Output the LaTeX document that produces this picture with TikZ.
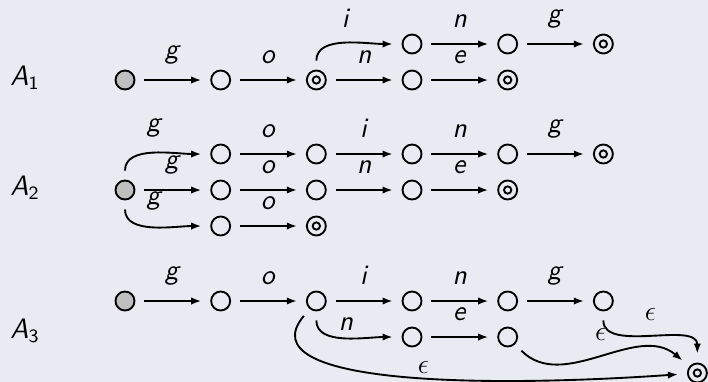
\documentclass[tikz,border=0pt]{standalone}
\usepackage{amsmath,amssymb}
\usepackage{tikz}
\usetikzlibrary{positioning,arrows.meta}
\usepackage{xcolor}
\definecolor{slidebg}{RGB}{234,234,242}

\begin{document}
\begin{tikzpicture}[x=0.15mm, y=-0.15mm, font=\fontsize{12}{14}\selectfont\sffamily, >={Latex[length=1.5mm,width=1.1mm]}, node distance=5.4mm and 14.35mm, on grid]
\tikzset{st/.style={draw, circle, thick, minimum size=2.85mm, inner sep=0pt},ini/.style={st, fill=black!25},acc/.style={st, path picture={\draw[thick] (path picture bounding box.center) circle (0.55mm);}},tr/.style={->, thick, shorten <=1.35mm, shorten >=1.35mm},lbl/.style={above=1.1mm},autlbl/.style={anchor=base west, inner sep=0pt}}
\fill[slidebg] (0,0) rectangle (708,382);
\useasboundingbox (0,0) rectangle (708,382);
% A1
\node[autlbl] (aut1) at (10,85) {\textit{A}\textsubscript{1}};
\node[ini] (a0) at (125,80) {};
\node[st, right=of a0] (a1) {};
\node[acc, right=of a1] (a2) {};
\node[st, right=of a2] (a3) {};
\node[acc, right=of a3] (a4) {};
\node[st, above right=of a2] (b1) {};
\node[st, right=of b1] (b2) {};
\node[acc, right=of b2] (b3) {};
\draw[tr] (a0) -- node[lbl]{\textit{g}} (a1); \draw[tr] (a1) -- node[lbl]{\textit{o}} (a2);
\draw[tr] (a2) to[out=90,in=180] node[lbl]{\textit{i}} (b1); \draw[tr] (a2) -- node[lbl]{\textit{n}} (a3); \draw[tr] (a3) -- node[lbl]{\textit{e}} (a4);
\draw[tr] (b1) -- node[lbl]{\textit{n}} (b2); \draw[tr] (b2) -- node[lbl]{\textit{g}} (b3);
% A2
\node[autlbl] (aut2) at (10,195) {\textit{A}\textsubscript{2}};
\node[ini] (c0) at (125,190) {};
\node[st, above right=of c0] (t1) {};
\node[st, right=of t1] (t2) {};
\node[st, right=of t2] (t3) {};
\node[st, right=of t3] (t4) {};
\node[acc, right=of t4] (t5) {};
\node[st, right=of c0] (m1) {};
\node[st, right=of m1] (m2) {};
\node[st, right=of m2] (m3) {};
\node[acc, right=of m3] (m4) {};
\node[st, below right=of c0] (u1) {};
\node[acc, right=of u1] (u2) {};
\draw[tr] (c0) to[out=90,in=180] node[lbl]{\textit{g}} (t1); \draw[tr] (c0) -- node[lbl]{\textit{g}} (m1); \draw[tr] (c0) to[out=-90,in=180] node[lbl]{\textit{g}} (u1);
\draw[tr] (t1) -- node[lbl]{\textit{o}} (t2); \draw[tr] (t2) -- node[lbl]{\textit{i}} (t3); \draw[tr] (t3) -- node[lbl]{\textit{n}} (t4); \draw[tr] (t4) -- node[lbl]{\textit{g}} (t5);
\draw[tr] (m1) -- node[lbl]{\textit{o}} (m2); \draw[tr] (m2) -- node[lbl]{\textit{n}} (m3); \draw[tr] (m3) -- node[lbl]{\textit{e}} (m4);
\draw[tr] (u1) -- node[lbl]{\textit{o}} (u2);
% A3
\node[autlbl] (aut3) at (10,338) {\textit{A}\textsubscript{3}};
\node[ini] (s0) at (125,301) {};
\node[st, right=of s0] (s1) {};
\node[st, right=of s1] (s2) {};
\node[st, right=of s2] (s3) {};
\node[st, right=of s3] (s4) {};
\node[st, right=of s4] (s5) {};
\node[st, below right=of s2] (r1) {};
\node[st, right=of r1] (r2) {};
\node[acc, below right=10.8mm and 14.1mm of s5] (fin) {};
\draw[tr] (s0) -- node[lbl]{\textit{g}} (s1); \draw[tr] (s1) -- node[lbl]{\textit{o}} (s2); \draw[tr] (s2) -- node[lbl]{\textit{i}} (s3);
\draw[tr] (s3) -- node[lbl]{\textit{n}} (s4); \draw[tr] (s4) -- node[lbl]{\textit{g}} (s5);
\draw[tr] (s2) to[out=-90,in=180] node[lbl, yshift=-1.45mm]{\textit{n}} (r1); \draw[tr] (r1) -- node[lbl]{\textit{e}} (r2);
\draw[tr] (s5) to[out=-90,in=90] node[lbl]{$\epsilon$} (fin);
\draw[tr] (r2) to[out=-45,in=140] node[lbl]{$\epsilon$} (fin);
\draw[tr] (s2) to[out=-130,in=184,out distance=15mm,in distance=30mm] node[lbl, pos=0.55, yshift=-1.8mm]{$\epsilon$} (fin);
\end{tikzpicture}
\end{document}
